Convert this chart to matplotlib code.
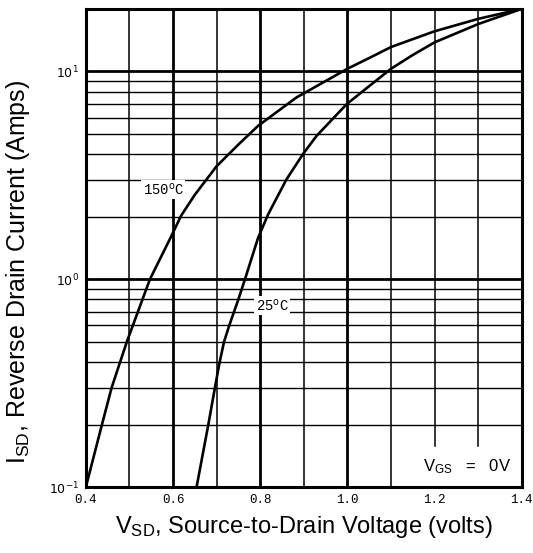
import numpy as np
import matplotlib.pyplot as plt

# curves
v_150 = [0.40, 0.437, 0.459, 0.494, 0.547, 0.594, 0.619, 0.65, 0.70, 0.75, 0.795, 0.883,
         1.00, 1.05, 1.10, 1.15, 1.20, 1.30, 1.40]
i_150 = [0.1, 0.2, 0.3, 0.5, 1.0, 1.58, 2.03, 2.55, 3.5, 4.45, 5.47, 7.49,
         10.3, 11.6, 13.1, 14.3, 15.6, 17.9, 20.0]

v_25 = [0.654, 0.681, 0.696, 0.707, 0.717, 0.729, 0.749, 0.765, 0.795, 0.818, 0.86, 0.898,
        0.929, 0.998, 1.05, 1.10, 1.15, 1.20, 1.30, 1.40]
i_25 = [0.1, 0.2, 0.3, 0.4, 0.5, 0.6, 0.79, 1.0, 1.58, 2.05, 3.02, 4.0,
        4.89, 6.95, 8.5, 10.3, 12.0, 13.8, 16.9, 20.0]

x_ticks = [0.4, 0.6, 0.8, 1.0, 1.2, 1.4]
x_ticklabels = ['0.4', '0.6', '0.8', '1.0', '1.2', '1.4']
y_ticks = [0.1, 1, 10]
y_ticklabels = ['$10^{-1}$', '$10^{0}$', '$10^{1}$']

fig = plt.figure(figsize=(5.33, 5.53), dpi=100)
ax = fig.add_axes([0.161, 0.119, 0.818, 0.865])
ax.set_yscale('log')
ax.set_xlim(0.4, 1.4)
ax.set_ylim(0.1, 20)

# grid
for v in np.arange(0.5, 1.35, 0.1):
    v = round(v, 1)
    lw = 2.0 if v in (0.6, 0.8, 1.0) else 1.1
    low = 0.158 if v in (1.2, 1.3) else 0.1
    ax.plot([v, v], [low, 20], color='black', lw=lw, zorder=1)
for dec in [0.1, 1]:
    for m in range(2, 10):
        ax.axhline(dec * m, color='black', lw=1.0, zorder=1)
ax.axhline(1, color='black', lw=2.0, zorder=1)
ax.axhline(10, color='black', lw=2.0, zorder=1)

ax.plot(v_150, i_150, color='black', lw=1.9, zorder=3, solid_capstyle='round')
ax.plot(v_25, i_25, color='black', lw=1.9, zorder=3, solid_capstyle='round')

box = dict(facecolor='white', edgecolor='none', pad=1)
ax.text(0.578, 2.7, '150$^{\\rm o}$C', fontsize=10, family='Liberation Mono',
        ha='center', va='center', bbox=box, zorder=4)
ax.text(0.827, 0.75, '25$^{\\rm o}$C', fontsize=10, family='Liberation Mono',
        ha='center', va='center', bbox=box, zorder=4)
ax.text(1.274, 0.126, '$\\mathregular{V_{GS}}$   =   0V', fontsize=12, family='Liberation Sans',
        ha='center', va='center', bbox=dict(facecolor='white', edgecolor='none', pad=2), zorder=4)

ax.set_xticks(x_ticks)
ax.set_xticklabels(x_ticklabels, family='Liberation Mono', fontsize=9)
ax.set_yticks(y_ticks)
ax.set_yticklabels(y_ticklabels, fontsize=9)
ax.yaxis.set_minor_locator(plt.NullLocator())
ax.tick_params(length=0, pad=5)

for s in ax.spines.values():
    s.set_linewidth(2.2)

ax.set_xlabel('$\\mathregular{V_{SD}}$, Source-to-Drain Voltage (volts)', fontsize=17,
              family='Liberation Sans', labelpad=6)
ax.set_ylabel('$\\mathregular{I_{SD}}$, Reverse Drain Current (Amps)', fontsize=18,
              family='Liberation Sans')
ax.yaxis.set_label_coords(-0.124, 0.45)

fig.savefig('out.png', dpi=100)
